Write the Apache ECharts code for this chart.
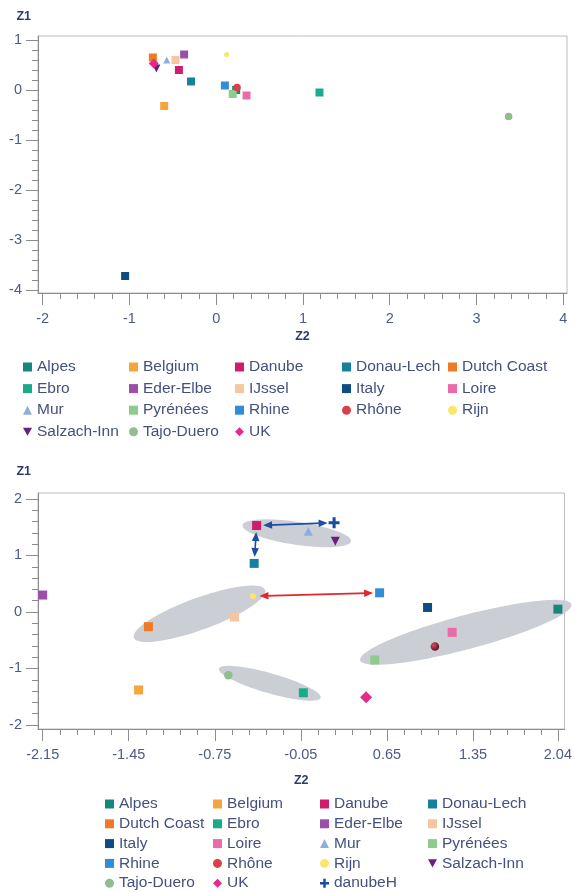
<!DOCTYPE html>
<html>
<head>
<meta charset="utf-8">
<script src="https://cdn.jsdelivr.net/npm/echarts@6.0.0/dist/echarts.min.js"></script>
<style>
  html, body { margin: 0; padding: 0; background: #fff; }
  #chart { width: 575px; height: 892px; }
</style>
</head>
<body>
<div id="chart"></div>
<script>
// Basins, in legend order
const basins = ['Alpes', 'Belgium', 'Danube', 'Donau-Lech', 'Dutch Coast', 'Ebro', 'Eder-Elbe', 'IJssel',
  'Italy', 'Loire', 'Mur', 'Pyrénées', 'Rhine', 'Rhône', 'Rijn', 'Salzach-Inn', 'Tajo-Duero', 'UK', 'danubeH'];

// Upper plot scores (danubeH is not part of it)
const z2Upper = [0.23, -0.60, -0.43, -0.29, -0.73, 1.19, -0.37, -0.47, -1.05, 0.35, -0.57, 0.19, 0.10, 0.24, 0.12, -0.69, 3.37, -0.72, null];
const z1Upper = [0.00, -0.32, 0.40, 0.17, 0.65, -0.05, 0.71, 0.60, -3.72, -0.11, 0.60, -0.08, 0.09, 0.05, 0.71, 0.43, -0.53, 0.53, null];

// Lower plot scores
const z2Lower = [2.04, -1.37, -0.41, -0.43, -1.29, -0.03, -2.15, -0.59, 0.98, 1.18, 0.01, 0.55, 0.59, 1.04, -0.44, 0.23, -0.64, 0.48, 0.22];
const z1Lower = [0.05, -1.38, 1.53, 0.86, -0.26, -1.43, 0.30, -0.09, 0.08, -0.36, 1.43, -0.85, 0.34, -0.61, 0.28, 1.25, -1.12, -1.51, 1.58];

// Tick labels
const upperXTicks = [-2, -1, 0, 1, 2, 3, 4];
const upperYTicks = [-4, -3, -2, -1, 0, 1];
const lowerXTicks = [-2.15, -1.45, -0.75, -0.05, 0.65, 1.35, 2.04];
const lowerYTicks = [-2, -1, 0, 1, 2];

// Groups in the lower plot: both ends of each group's long axis (Z2, Z1)
const groupEnds = [
  [[-0.525, 1.535], [0.358, 1.251]],
  [[-1.408, -0.455], [-0.341, 0.391]],
  [[-0.716, -1.003], [0.111, -1.520]],
  [[0.432, -0.855], [2.150, 0.136]]
];

// Two-way links between basins in the lower plot
const links = [['danubeH', 'Danube'], ['Danube', 'Donau-Lech'], ['Rijn', 'Rhine']];

// ---- styling ----
const FONT = 'Liberation Sans, Arial, Helvetica, sans-serif';
const AXIS_GRAY = '#8c8c8c';
const LABEL_COLOR = '#4d5a8a';
const NAME_COLOR = '#2c3a6c';
const groupHalfWidth = [11.5, 16, 10, 17];
const linkColors = ['#1c4ea6', '#1c4ea6', '#e3262b'];

const downTriangle = 'path://M0,0L10,0L5,9Z';
const plusMark = 'path://M3.6,0H6.4V3.6H10V6.4H6.4V10H3.6V6.4H0V3.6H3.6Z';

const basinStyle = {
  'Alpes':       { symbol: 'rect', color: '#17877b' },
  'Belgium':     { symbol: 'rect', color: '#f6a53c' },
  'Danube':      { symbol: 'rect', color: '#cf1c6c' },
  'Donau-Lech':  { symbol: 'rect', color: '#17809e' },
  'Dutch Coast': { symbol: 'rect', color: '#ef7a26' },
  'Ebro':        { symbol: 'rect', color: '#18ad89' },
  'Eder-Elbe':   { symbol: 'rect', color: '#9c4fa8' },
  'IJssel':      { symbol: 'rect', color: '#f7c6a0' },
  'Italy':       { symbol: 'rect', color: '#0f4c81' },
  'Loire':       { symbol: 'rect', color: '#eb6aa8' },
  'Mur':         { symbol: 'triangle', color: '#8eaedb' },
  'Pyrénées':    { symbol: 'rect', color: '#8fcc8c' },
  'Rhine':       { symbol: 'rect', color: '#2f8ed6' },
  'Rhône':       { symbol: 'circle', color: '#d8404c' },
  'Rijn':        { symbol: 'circle', color: '#f9e66a' },
  'Salzach-Inn': { symbol: downTriangle, color: '#6b1f7c' },
  'Tajo-Duero':  { symbol: 'circle', color: '#8fbf8f' },
  'UK':          { symbol: 'diamond', color: '#e62a8c' },
  'danubeH':     { symbol: plusMark, color: '#1b4ba3' }
};

function markSize(name, upper) {
  if (name === 'Rijn') return upper ? 5 : 6;
  if (name === 'UK') return upper ? 10 : 12;
  if (name === 'danubeH') return 11;
  if (name === 'Mur') return upper ? 7 : 9;
  if (name === 'Salzach-Inn') return upper ? 8 : 9;
  if (name === 'Rhône' || name === 'Tajo-Duero') return upper ? 7.5 : 8.5;
  return upper ? 8 : 9;
}

function minorTicks(majors, parts) {
  const out = [];
  for (let i = 0; i < majors.length - 1; i++) {
    for (let k = 1; k < parts; k++) out.push(majors[i] + (majors[i + 1] - majors[i]) * k / parts);
  }
  return out;
}

function majorAxis(gridIndex, range, ticks, position, margin, extra) {
  return Object.assign({
    type: 'value', gridIndex, min: range[0], max: range[1], position,
    axisLine: { show: true, onZero: false, lineStyle: { color: AXIS_GRAY, width: 1 } },
    axisTick: { show: true, customValues: ticks, length: 12, lineStyle: { color: AXIS_GRAY } },
    axisLabel: {
      customValues: ticks, margin, color: LABEL_COLOR, fontSize: 14.5, fontFamily: FONT,
      formatter: v => String(+(+v).toFixed(2))
    },
    splitLine: { show: false }
  }, extra);
}

function minorAxis(gridIndex, range, ticks, position) {
  return {
    type: 'value', gridIndex, min: range[0], max: range[1], position,
    axisLine: { show: false, onZero: false },
    axisTick: { show: true, customValues: ticks, length: 6, lineStyle: { color: AXIS_GRAY } },
    axisLabel: { show: false },
    splitLine: { show: false }
  };
}

const nameStyle = { fontFamily: FONT, fontWeight: 'bold', fontSize: 12.5, color: NAME_COLOR };

const upperX = [-2.054, 4.043], upperY = [-4.06, 1.08];
const lowerX = [-2.188, 2.094], lowerY = [-2.071, 2.106];

const xAxis = [
  majorAxis(0, upperX, upperXTicks, 'bottom', 18, { name: 'Z2', nameLocation: 'middle', nameGap: 37, nameTextStyle: nameStyle }),
  minorAxis(0, upperX, minorTicks(upperXTicks, 5), 'bottom'),
  majorAxis(1, lowerX, lowerXTicks, 'bottom', 18, { name: 'Z2', nameLocation: 'middle', nameGap: 45, nameTextStyle: nameStyle }),
  minorAxis(1, lowerX, minorTicks(lowerXTicks, 5), 'bottom')
];
const yNameStyle = Object.assign({ align: 'right', padding: [0, 7, 0, 0] }, nameStyle);
const yAxis = [
  majorAxis(0, upperY, upperYTicks, 'left', 16, { name: 'Z1', nameLocation: 'end', nameGap: 13, nameTextStyle: yNameStyle }),
  minorAxis(0, upperY, minorTicks(upperYTicks, 5), 'left'),
  majorAxis(1, lowerY, lowerYTicks, 'left', 16, { name: 'Z1', nameLocation: 'end', nameGap: 15, nameTextStyle: yNameStyle }),
  minorAxis(1, lowerY, minorTicks(lowerYTicks, 5), 'left')
];

const series = [];

// shaded group regions, drawn as ellipses along each long axis
series.push({
  type: 'custom', name: 'groups', xAxisIndex: 2, yAxisIndex: 2, z: 1, silent: true,
  data: groupEnds.map(g => [g[0][0], g[0][1], g[1][0], g[1][1]]),
  encode: { x: [0, 2], y: [1, 3] },
  renderItem(params, api) {
    const p1 = api.coord([api.value(0), api.value(1)]);
    const p2 = api.coord([api.value(2), api.value(3)]);
    const b = groupHalfWidth[params.dataIndex];
    const cx = (p1[0] + p2[0]) / 2, cy = (p1[1] + p2[1]) / 2;
    const a = Math.hypot(p2[0] - p1[0], p2[1] - p1[1]) / 2;
    const ang = Math.atan2(p2[1] - p1[1], p2[0] - p1[0]);
    const c = Math.cos(ang), s = Math.sin(ang);
    const pts = [];
    for (let k = 0; k < 96; k++) {
      const t = k / 96 * 2 * Math.PI;
      const ex = a * Math.cos(t), ey = b * Math.sin(t);
      pts.push([cx + ex * c - ey * s, cy + ex * s + ey * c]);
    }
    return { type: 'polygon', shape: { points: pts }, style: { fill: '#cbced4' } };
  }
});

// double-headed link arrows
const idx = name => basins.indexOf(name);
series.push({
  type: 'custom', name: 'links', xAxisIndex: 2, yAxisIndex: 2, z: 2, silent: true,
  data: links.map(([a, b]) => [z2Lower[idx(a)], z1Lower[idx(a)], z2Lower[idx(b)], z1Lower[idx(b)]]),
  encode: { x: [0, 2], y: [1, 3] },
  renderItem(params, api) {
    const a = api.coord([api.value(0), api.value(1)]);
    const b = api.coord([api.value(2), api.value(3)]);
    const color = linkColors[params.dataIndex];
    const dx = b[0] - a[0], dy = b[1] - a[1];
    const len = Math.hypot(dx, dy), ux = dx / len, uy = dy / len;
    const gap = 6.5, head = 9, hw = 3.8;
    const s = [a[0] + ux * gap, a[1] + uy * gap];
    const e = [b[0] - ux * gap, b[1] - uy * gap];
    const headAt = (tip, dxu, dyu) => {
      const bx = tip[0] - dxu * head, by = tip[1] - dyu * head;
      return [[tip[0], tip[1]], [bx - dyu * hw, by + dxu * hw], [bx + dyu * hw, by - dxu * hw]];
    };
    return {
      type: 'group',
      children: [
        { type: 'line', shape: { x1: s[0] + ux * head * 0.6, y1: s[1] + uy * head * 0.6, x2: e[0] - ux * head * 0.6, y2: e[1] - uy * head * 0.6 },
          style: { stroke: color, lineWidth: 1.6 } },
        { type: 'polygon', shape: { points: headAt(e, ux, uy) }, style: { fill: color } },
        { type: 'polygon', shape: { points: headAt(s, -ux, -uy) }, style: { fill: color } }
      ]
    };
  }
});

// basin markers
basins.forEach((name, i) => {
  const st = basinStyle[name];
  if (z2Upper[i] != null) {
    series.push({
      type: 'scatter', name, xAxisIndex: 0, yAxisIndex: 0, z: 3,
      symbol: st.symbol, symbolSize: markSize(name, true),
      itemStyle: { color: st.color, opacity: 1 },
      data: [[z2Upper[i], z1Upper[i]]]
    });
  }
});
basins.forEach((name, i) => {
  const st = basinStyle[name];
  let color = st.color;
  if (name === 'Rhône') {
    color = { type: 'radial', x: 0.35, y: 0.35, r: 0.75,
      colorStops: [{ offset: 0, color: '#d94a5a' }, { offset: 1, color: '#5a0b17' }] };
  }
  series.push({
    type: 'scatter', name, xAxisIndex: 2, yAxisIndex: 2, z: 3,
    symbol: st.symbol, symbolSize: markSize(name, false),
    itemStyle: { color, opacity: 1 },
    data: [[z2Lower[i], z1Lower[i]]]
  });
});

// legends: one vertical legend per column
function columns(names, n) {
  const cols = Array.from({ length: n }, () => []);
  names.forEach((nm, i) => cols[i % n].push(nm));
  return cols;
}
const legendText = { fontFamily: FONT, fontSize: 15.5, color: '#44507e' };
const legendBase = { orient: 'vertical', padding: 0, itemWidth: 9, itemHeight: 9, selectedMode: false, height: 140 };
const upperLegendLeft = [23, 129, 235, 342, 448];
const lowerLegendLeft = [105, 213, 320, 428];
const legend = [];
columns(basins.filter((n, i) => z2Upper[i] != null), 5).forEach((data, c) => {
  legend.push(Object.assign({}, legendBase, {
    data, left: upperLegendLeft[c], top: 359, itemGap: 5.6,
    textStyle: Object.assign({ lineHeight: 16 }, legendText)
  }));
});
columns(basins, 4).forEach((data, c) => {
  legend.push(Object.assign({}, legendBase, {
    data, left: lowerLegendLeft[c], top: 796, itemGap: 3.8,
    textStyle: Object.assign({ lineHeight: 16 }, legendText)
  }));
});

const chart = echarts.init(document.getElementById('chart'), null, { renderer: 'canvas' });
chart.setOption({
  backgroundColor: '#ffffff',
  animation: false,
  textStyle: { fontFamily: FONT },
  grid: [
    { left: 38, top: 36, width: 529, height: 257, show: true, borderColor: '#bcbcbc', borderWidth: 1, backgroundColor: 'transparent' },
    { left: 38, top: 493, width: 528, height: 236, show: true, borderColor: '#bcbcbc', borderWidth: 1, backgroundColor: 'transparent' }
  ],
  xAxis,
  yAxis,
  legend,
  series
});
</script>
</body>
</html>
